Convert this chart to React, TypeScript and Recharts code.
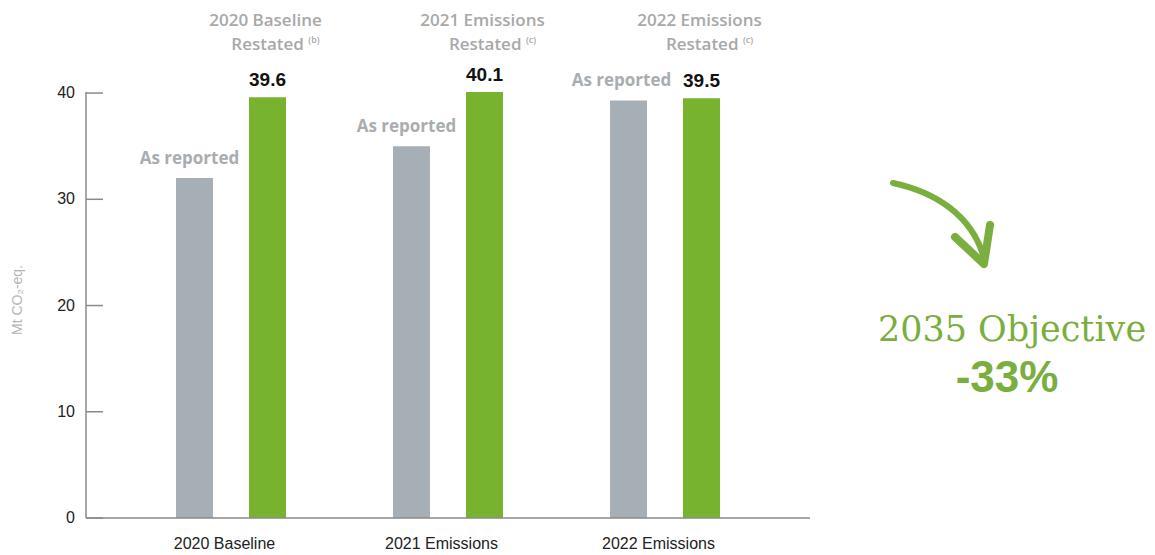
import { Bar, BarChart, LabelList, ReferenceLine, XAxis, YAxis } from "recharts";

const categories = ["2020 Baseline", "2021 Emissions", "2022 Emissions"];
const reported = [32, 35, 39.3];
const restated = [39.6, 40.1, 39.5];
const restatedTitles = ["2020 Baseline", "2021 Emissions", "2022 Emissions"];
const restatedNotes = ["(b)", "(c)", "(c)"];
const yTicks = [0, 10, 20, 30, 40];
const reportedLabel = "As reported";
const yAxisTitle = "Mt CO₂-eq.";
const objectiveTitle = "2035 Objective";
const objectiveValue = "-33%";

const GRAY = "#a6afb5";
const GREEN = "#77b32f";
const TEXT_GREEN = "#7aae3e";
const AXIS = "#8a8a8a";
const SANS = "'Liberation Sans', Arial, sans-serif";
const SOFT = "'Open Sans', 'Liberation Sans', sans-serif";

const rows = categories.map((name, i) => ({
  name,
  reported: reported[i],
  restated: restated[i],
}));

function YTick(props: any) {
  const { x, y, payload } = props;
  return (
    <text x={x} y={y} dy={5} textAnchor="end" fontFamily={SANS} fontSize={16} fill="#222">
      {payload.value}
    </text>
  );
}

// short tick mark pointing into the plot, drawn at the reference line's start
function InnerTick(props: any) {
  const x1 = Number(props.x1);
  const y1 = Number(props.y1);
  return <line x1={x1} y1={y1} x2={x1 + 17} y2={y1} stroke={AXIS} strokeWidth={1.5} />;
}

function XTick(props: any) {
  const { x, y, payload } = props;
  return (
    <text x={x - 6} y={y} dy={31} textAnchor="middle" fontFamily={SANS} fontSize={16} fill="#222">
      {payload.value}
    </text>
  );
}

function box(props: any) {
  const vb = props.viewBox ?? props;
  return { x: Number(vb.x), y: Number(vb.y), width: Number(vb.width) };
}

function ReportedLabel(props: any) {
  const { x, y, width } = box(props);
  const last = props.index === categories.length - 1;
  return (
    <text
      x={x + width / 2 - (last ? 7 : 5)}
      y={y - 14}
      textAnchor="middle"
      fontFamily={SOFT}
      fontWeight={700}
      fontSize={17}
      fill="#a9adb0"
    >
      {reportedLabel}
    </text>
  );
}

function ValueLabel(props: any) {
  const { x, y, width } = box(props);
  return (
    <text x={x + width / 2} y={y - 11} textAnchor="middle" fontFamily={SANS} fontWeight={700} fontSize={19} fill="#111">
      {props.value}
    </text>
  );
}

function HeaderLabel(props: any) {
  const { x, width } = box(props);
  const i = props.index;
  const cx = x + width / 2;
  return (
    <g fontFamily={SOFT} fontSize={17} fontWeight={600} fill="#a8a8a8">
      <text x={cx - 2} y={26} textAnchor="middle">
        {restatedTitles[i]}
      </text>
      <text x={cx + 8} y={50} textAnchor="middle">
        Restated{" "}
        <tspan fontSize={9} dy={-7}>
          {restatedNotes[i]}
        </tspan>
      </text>
    </g>
  );
}

function YTitle(props: any) {
  const vb = props.viewBox;
  const cx = vb.x + 17;
  const cy = 300;
  return (
    <text
      x={cx}
      y={cy}
      transform={`rotate(-90 ${cx} ${cy})`}
      textAnchor="middle"
      dominantBaseline="central"
      fontFamily={SANS}
      fontSize={14}
      fill="#b5b5b5"
    >
      {yAxisTitle}
    </text>
  );
}

export default function App() {
  return (
    <div style={{ position: "absolute", left: 0, top: 0, width: 1155, height: 555, background: "#fff" }}>
      <BarChart
        width={1155}
        height={555}
        data={rows}
        margin={{ top: 92, right: 345, left: 0, bottom: 7 }}
        barSize={37}
        barGap={36}
      >
        <XAxis
          dataKey="name"
          height={30}
          padding={{ left: 36, right: 37 }}
          tickLine={false}
          tickSize={0}
          tickMargin={0}
          axisLine={{ stroke: AXIS, strokeWidth: 1.5 }}
          tick={<XTick />}
          interval={0}
        />
        <YAxis
          width={86}
          domain={[0, 40.1]}
          ticks={yTicks}
          tickLine={false}
          tickSize={0}
          tickMargin={11}
          axisLine={{ stroke: AXIS, strokeWidth: 1.5 }}
          tick={<YTick />}
          label={<YTitle />}
        />
        {yTicks.map((v) => (
          <ReferenceLine key={v} y={v} ifOverflow="visible" shape={<InnerTick />} />
        ))}
        <Bar dataKey="reported" fill={GRAY} isAnimationActive={false}>
          <LabelList dataKey="reported" content={<ReportedLabel />} />
        </Bar>
        <Bar dataKey="restated" fill={GREEN} isAnimationActive={false}>
          <LabelList dataKey="restated" content={<ValueLabel />} />
          <LabelList dataKey="restated" content={<HeaderLabel />} />
        </Bar>
      </BarChart>
      <svg
        width={1155}
        height={555}
        style={{ position: "absolute", left: 0, top: 0, pointerEvents: "none" }}
      >
        <path
          d="M 893 183 C 935 192, 972 215, 984 258"
          fill="none"
          stroke={TEXT_GREEN}
          strokeWidth={6}
          strokeLinecap="round"
        />
        <path
          d="M 955 237 L 984 264 L 990 225"
          fill="none"
          stroke={TEXT_GREEN}
          strokeWidth={8}
          strokeLinecap="round"
          strokeLinejoin="round"
        />
        <text x={1012} y={341} textAnchor="middle" fontFamily="'DejaVu Serif', serif" fontSize={35} fill={TEXT_GREEN}>
          {objectiveTitle}
        </text>
        <text x={1007} y={392} textAnchor="middle" fontFamily={SANS} fontWeight={700} fontSize={44} fill={TEXT_GREEN}>
          {objectiveValue}
        </text>
      </svg>
    </div>
  );
}
